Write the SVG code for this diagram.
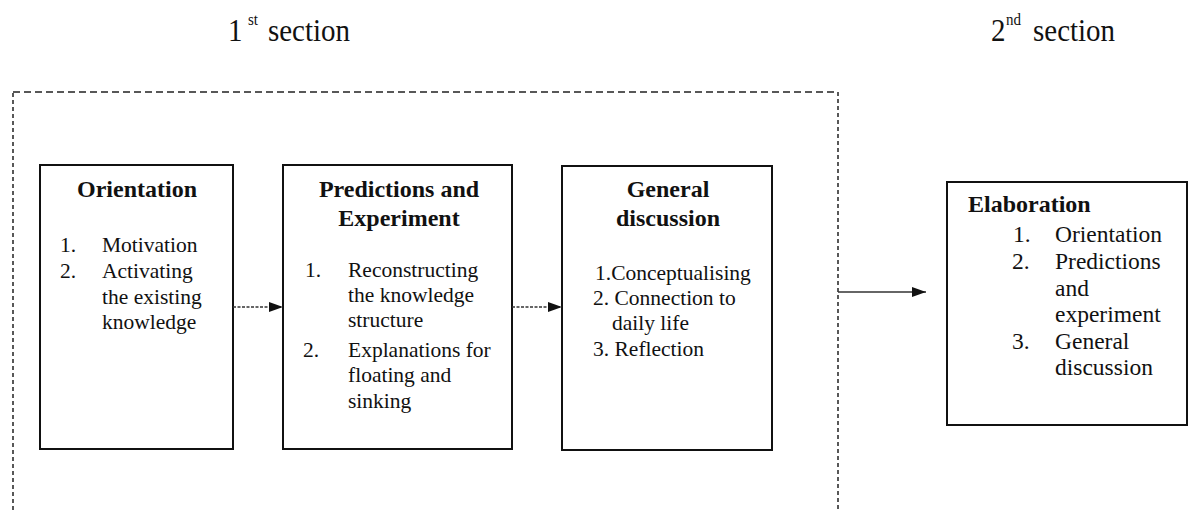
<svg xmlns="http://www.w3.org/2000/svg" width="1189" height="510" viewBox="0 0 1189 510">
<style>
text{font-family:"Liberation Serif","Times New Roman",serif;fill:#111}
.hd{font-size:29px}
.sup{font-size:15px}
.ttl{font-size:24px;font-weight:bold;text-anchor:middle}
.li{font-size:21.5px}
.el{font-size:23.5px}
.box{fill:#fff;stroke:#111;stroke-width:2}
.conn{stroke:#333;stroke-width:1.6;fill:none}
</style>
<defs>
<marker id="ah" viewBox="0 0 14 10" refX="14" refY="5" markerWidth="14" markerHeight="10" markerUnits="userSpaceOnUse" orient="auto">
<path d="M0,0 L14,5 L0,10 Z" fill="#111"/>
</marker>
</defs>
<rect width="1189" height="510" fill="#fff"/>
<g id="headings">
<g transform="translate(228,41) scale(1,1.12)"><text class="hd" x="0" y="0">1</text><text class="sup" x="20" y="-14">st</text><text class="hd" x="40" y="0">section</text></g>
<g transform="translate(991,41) scale(1,1.12)"><text class="hd" x="0" y="0">2</text><text class="sup" x="15" y="-14">nd</text><text class="hd" x="42" y="0">section</text></g>
</g>
<g id="section1">
<path d="M13,92 H838" fill="none" stroke="#222" stroke-width="1.5" stroke-dasharray="7,4"/>
<path d="M13,510 V92 M838,92 V510" fill="none" stroke="#222" stroke-width="1.5" stroke-dasharray="4,3"/>
</g>
<g id="orientation">
<rect class="box" x="40" y="165" width="193" height="284"/>
<text class="ttl" x="137" y="197">Orientation</text>
<text class="li" x="60" y="252">1.</text><text class="li" x="102" y="252">Motivation</text>
<text class="li" x="60" y="278">2.</text><text class="li" x="102" y="278">Activating</text>
<text class="li" x="102" y="304">the existing</text>
<text class="li" x="102" y="329">knowledge</text>
</g>
<g id="predictions">
<rect class="box" x="283" y="165" width="229" height="284"/>
<text class="ttl" x="399" y="197">Predictions and</text>
<text class="ttl" x="399" y="226">Experiment</text>
<text class="li" x="305" y="277">1.</text><text class="li" x="348" y="277">Reconstructing</text>
<text class="li" x="348" y="302">the knowledge</text>
<text class="li" x="348" y="327">structure</text>
<text class="li" x="303" y="357">2.</text><text class="li" x="348" y="357">Explanations for</text>
<text class="li" x="348" y="382">floating and</text>
<text class="li" x="348" y="408">sinking</text>
</g>
<g id="general">
<rect class="box" x="562" y="166" width="210" height="284"/>
<text class="ttl" x="668" y="197">General</text>
<text class="ttl" x="668" y="226">discussion</text>
<text class="li" x="595" y="280">1.Conceptualising</text>
<text class="li" x="593" y="305">2. Connection to</text>
<text class="li" x="612" y="330">daily life</text>
<text class="li" x="593" y="356">3. Reflection</text>
</g>
<g id="elaboration">
<rect class="box" x="947" y="182" width="240" height="243"/>
<text x="968" y="212" style="font-size:24px;font-weight:bold">Elaboration</text>
<text class="el" x="1013" y="242">1.</text><text class="el" x="1055" y="242">Orientation</text>
<text class="el" x="1012" y="269">2.</text><text class="el" x="1055" y="269">Predictions</text>
<text class="el" x="1055" y="295.5">and</text>
<text class="el" x="1055" y="322">experiment</text>
<text class="el" x="1012" y="348.5">3.</text><text class="el" x="1055" y="348.5">General</text>
<text class="el" x="1055" y="375">discussion</text>
</g>
<g id="connectors">
<line class="conn" x1="233" y1="307" x2="283" y2="307" stroke-dasharray="3,1.5" marker-end="url(#ah)"/>
<line class="conn" x1="512" y1="307" x2="562" y2="307" stroke-dasharray="3,1.5" marker-end="url(#ah)"/>
<line class="conn" x1="838" y1="292" x2="926" y2="292" marker-end="url(#ah)"/>
</g>
</svg>
